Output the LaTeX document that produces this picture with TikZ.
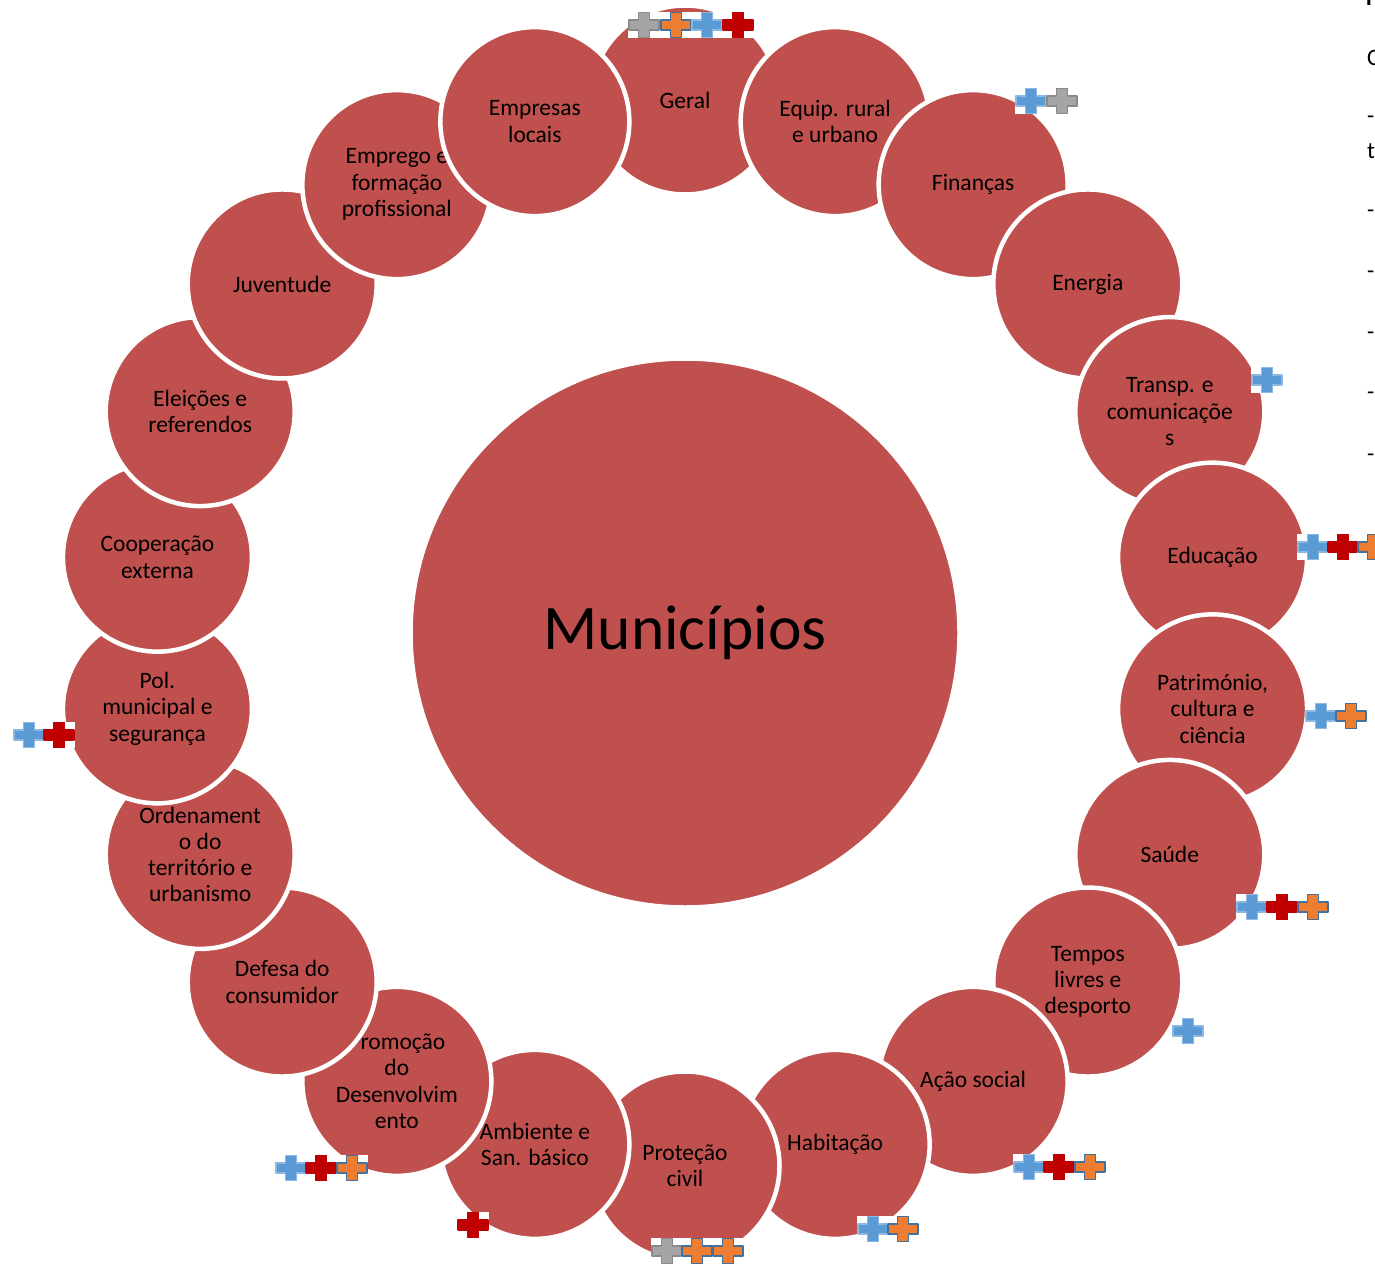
\documentclass[tikz,border=0pt]{standalone}
\usepackage{fontspec}
\setmainfont{Carlito}
\usetikzlibrary{shapes, calc}
\definecolor{topicred}{HTML}{C0504D}
\definecolor{crossblue}{HTML}{5B9BD5}
\definecolor{crossblueline}{HTML}{8DB8E2}
\definecolor{crossgray}{HTML}{A5A5A5}
\definecolor{crossgrayline}{HTML}{8A8A8A}
\definecolor{crossorange}{HTML}{ED7D31}
\definecolor{crossorangeline}{HTML}{41719C}
\definecolor{crossred}{HTML}{C00000}
\def \ringrad {533}
\def \topicsize {189pt}
\tikzset{
  topic/.style = {circle, draw = white, line width = 4.5pt, fill = topicred, minimum size = \topicsize, inner sep = 0pt, align = center, font = \fontsize{23.5}{26.3}\selectfont},
  hub/.style = {circle, draw = white, line width = 3.5pt, fill = topicred, minimum size = 548pt, inner sep = 0pt, font = \fontsize{63.5}{70}\selectfont},
  edgetext/.style = {anchor = base west, inner sep = 0pt, font = \fontsize{23.5}{26.3}\selectfont}
}
% #1 centre, #2 fill, #3 outline
\newcommand{\crossmark}[3]{%
  \begin{scope}[shift = {(#1)}]
    \fill[white] (-16,-13) rectangle (16,13);
    \draw[fill = #2, draw = #3, line width = 1.2pt, line join = round] (-5.5,-12.5) -- (5.5,-12.5) -- (5.5,-5) -- (15,-5) -- (15,5) -- (5.5,5) -- (5.5,12.5) -- (-5.5,12.5) -- (-5.5,5) -- (-15,5) -- (-15,-5) -- (-5.5,-5) -- cycle;
  \end{scope}}

\begin{document}
\begin{tikzpicture}[x = 1pt, y = -1pt]
\useasboundingbox (0,0) rectangle (1375,1265);
\fill[white] (0,0) rectangle (1375,1265);

\node (munic) [hub] at (685,633) {Municípios};

\foreach \lbl [count = \i from 0] in {Geral, {Equip. rural\\e urbano}, Finanças, Energia, {Transp. e\\comunicaçõe\\s}, Educação, {Património,\\cultura e\\ciência}, Saúde, {Tempos\\livres e\\desporto}, Ação social, Habitação, {Proteção\\civil}, {Ambiente e\\San. básico}, {Promoção\\do\\Desenvolvim\\ento}, {Defesa do\\consumidor}, {Ordenament\\o do\\território e\\urbanismo}, {Pol.\\municipal e\\segurança}, {Cooperação\\externa}, {Eleições e\\referendos}, Juventude, {Emprego e\\formação\\profissional}, {Empresas\\locais}}
  \path (munic.center) ++({\i*360/22 - 90}:\ringrad) node (topic\i) [topic] {\lbl};

% markers
\crossmark{644,25}{crossgray}{crossgrayline}
\crossmark{676,25}{crossorange}{crossorangeline}
\crossmark{707,25}{crossblue}{crossblueline}
\crossmark{738,25}{crossred}{crossred}
\crossmark{1031,101}{crossblue}{crossblueline}
\crossmark{1062,101}{crossgray}{crossgrayline}
\crossmark{1267,380}{crossblue}{crossblueline}
\crossmark{1313,547}{crossblue}{crossblueline}
\crossmark{1343,547}{crossred}{crossred}
\crossmark{1373,547}{crossorange}{crossorangeline}
\crossmark{1321,716}{crossblue}{crossblueline}
\crossmark{1351,716}{crossorange}{crossorangeline}
\crossmark{1252,907}{crossblue}{crossblueline}
\crossmark{1282,907}{crossred}{crossred}
\crossmark{1313,907}{crossorange}{crossorangeline}
\crossmark{1188,1031}{crossblue}{crossblueline}
\crossmark{1029,1167}{crossblue}{crossblueline}
\crossmark{1059,1167}{crossred}{crossred}
\crossmark{1090,1167}{crossorange}{crossorangeline}
\crossmark{873,1229}{crossblue}{crossblueline}
\crossmark{903,1229}{crossorange}{crossorangeline}
\crossmark{667,1251}{crossgray}{crossgrayline}
\crossmark{697,1251}{crossorange}{crossorangeline}
\crossmark{728,1251}{crossorange}{crossorangeline}
\crossmark{473,1225}{crossred}{crossred}
\crossmark{291,1168}{crossblue}{crossblueline}
\crossmark{321,1168}{crossred}{crossred}
\crossmark{352,1168}{crossorange}{crossorangeline}
\crossmark{29,735}{crossblue}{crossblueline}
\crossmark{59,735}{crossred}{crossred}

% text of the next column, cut by the edge
\node (edgetop) [edgetext] at (1366,6) {\textbf{P}};
\foreach \txt/\yy [count = \k] in {C/66, -/124, t/159, -/218, -/278, -/339, -/399, -/461}
  \node (edge\k) [edgetext] at (1367,\yy) {\txt};

\end{tikzpicture}
\end{document}
